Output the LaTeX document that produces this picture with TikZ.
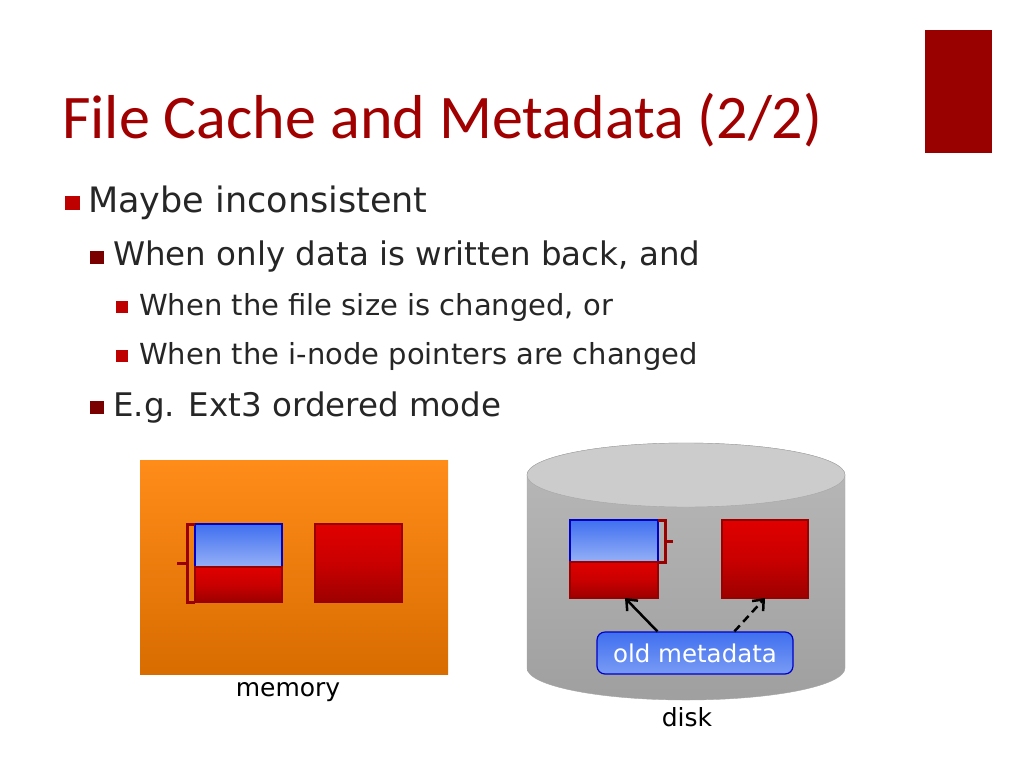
\documentclass[tikz,border=0pt]{standalone}
\usepackage{fontspec}
\setmainfont{DejaVu Sans}
\newfontfamily\titlefont{Carlito}
\usetikzlibrary{positioning,shapes.geometric,arrows.meta}
\definecolor{slidered}{HTML}{A00000}
\definecolor{barred}{HTML}{990000}
\definecolor{darkbul}{HTML}{7A0000}
\definecolor{blockblue}{HTML}{4070F0}
\definecolor{blockred}{HTML}{E00000}
\begin{document}
\begin{tikzpicture}[x=1pt,y=-1pt,
    item/.style={anchor=west, inner sep=0pt, text=black!85},
    redblock/.style={draw=barred, line width=1.2pt, top color=blockred, bottom color=blockred!70!black, middle color=blockred!90!black},
    blueblock/.style={draw=blue!80!black, line width=1.2pt, top color=blockblue, bottom color=blockblue!55!white},
    brace/.style={draw=barred, line width=3pt},
    arrow/.style={-{Straight Barb[length=9pt,width=15pt]}, line width=2.5pt, black}
]
\useasboundingbox (0,0) rectangle (1024,768);

% Title and bar
\node[anchor=base west, inner sep=0pt, text=slidered, font=\titlefont\fontsize{62}{62}\selectfont] (title) at (62,138) {File Cache and Metadata (2/2)};
\fill[barred] (925,30) rectangle (992,153);

% Bullets
\fill[blockred!85!black] (65,196) rectangle (80,210);
\node[item, font=\fontsize{35}{35}\selectfont] (b1) at (88,203) {Maybe inconsistent};
\fill[darkbul] (90,251) rectangle (104,264);
\node[item, font=\fontsize{32.5}{32.5}\selectfont] (b2) at (113,257) {When only data is written back, and};
\fill[blockred!85!black] (116,301) rectangle (128,313);
\node[item, font=\fontsize{29}{29}\selectfont] (b3) at (139,307) {When the file size is changed, or};
\fill[blockred!85!black] (116,350) rectangle (128,362);
\node[item, font=\fontsize{29}{29}\selectfont] (b4) at (139,356) {When the i-node pointers are changed};
\fill[darkbul] (90,401) rectangle (104,414);
\node[item, font=\fontsize{32.5}{32.5}\selectfont] (b5) at (113,408) {E.g. Ext3 ordered mode};

% Memory
\shade[top color=orange!100!yellow!90, bottom color=orange!85!black] (140,460) rectangle (448,674);
\draw[blueblock] (195,524) rectangle (282,567);
\draw[redblock] (195,567) rectangle (282,602);
\draw[redblock] (315,524) rectangle (402,602);
\draw[brace] (195,524) -- (187,524) -- (187,602) -- (195,602);
\draw[brace] (187,563) -- (177,563);
\node[font=\fontsize{25}{25}\selectfont] (memlabel) at (288,692) {memory};

% Disk
\path[top color=gray!55, bottom color=gray!75, draw=gray!70]
  (527,475) -- (527,668) arc[start angle=180, end angle=0, x radius=159, y radius=32]
  -- (845,475) arc[start angle=0, end angle=-180, x radius=159, y radius=32] -- cycle;
\draw[fill=gray!40, draw=gray!70] (686,475) ellipse[x radius=159, y radius=32];
\draw[blueblock] (570,520) rectangle (658,562);
\draw[redblock] (570,562) rectangle (658,598);
\draw[redblock] (722,520) rectangle (808,598);
\draw[brace] (658,520) -- (665,520) -- (665,562) -- (658,562);
\draw[brace] (665,541) -- (673,541);
\node[draw=blue!80!black, line width=1.2pt, rounded corners=8pt, top color=blockblue, bottom color=blockblue!70!white,
      text=white, minimum width=196pt, minimum height=42pt, inner sep=0pt,
      font=\fontsize{24.5}{24.5}\selectfont] (oldmeta) at (695,653) {old metadata};
\coordinate (blockA) at (625,598);
\coordinate (blockB) at (765,598);
\draw[arrow] (oldmeta.north west) ++(61,0) -- (blockA);
\draw[arrow, dash pattern=on 8pt off 5pt] (oldmeta.north west) ++(138,0) -- (blockB);
\node[font=\fontsize{25}{25}\selectfont] (disklabel) at (687,717) {disk};
\end{tikzpicture}
\end{document}
